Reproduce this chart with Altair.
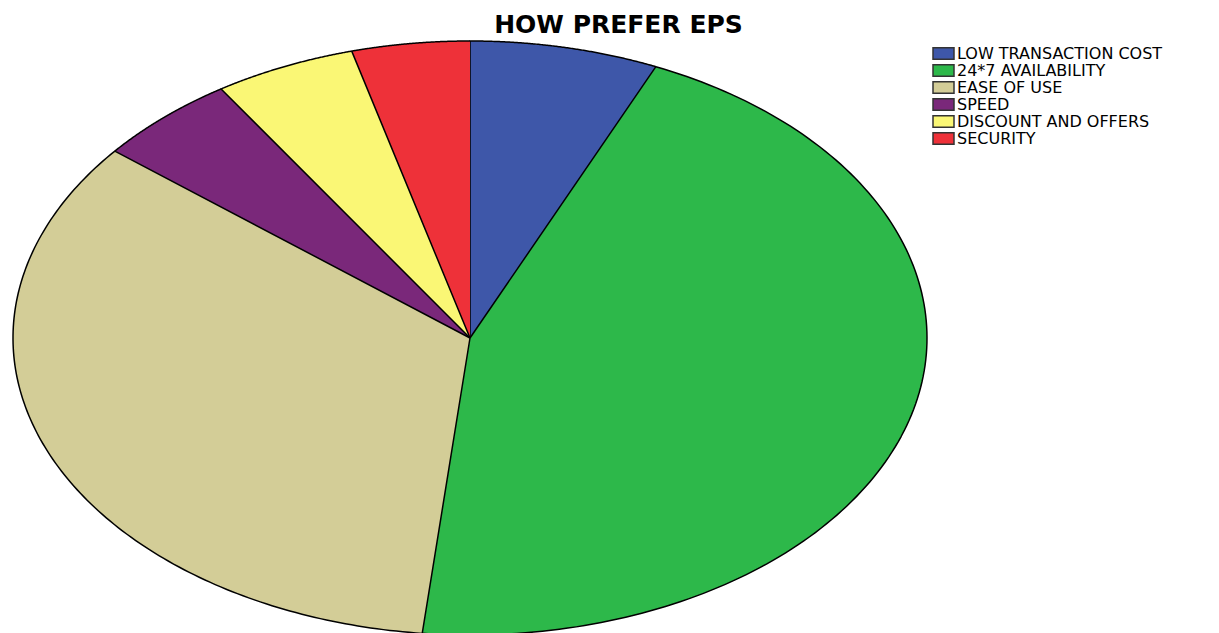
import altair as alt
import pandas as pd

# ---- data ----
categories = ["LOW TRANSACTION COST", "24*7 AVAILABILITY", "EASE OF USE",
              "SPEED", "DISCOUNT AND OFFERS", "SECURITY"]
counts = [8, 54, 41, 6, 6, 5]
colors = ["#3E57A9", "#2DB84A", "#D3CD97", "#7A287A", "#FAF775", "#EE3139"]

df = pd.DataFrame({"category": categories, "count": counts,
                   "idx": list(range(len(categories)))})

# ---- layout ----
W, H, TOP = 1219, 633, 40
VIEW_H = H - TOP
CX, CY, RX, RY = 470, 338 - TOP, 457, 297   # ellipse centre / radii in view px
N = 150                                      # arc resolution

x_dom = [-CX / RX, (W - CX) / RX]
y_dom = [-(VIEW_H - CY) / RY, CY / RY]

chart = alt.Chart(df).transform_window(
    cum="sum(count)", sort=[alt.SortField("idx")], frame=[None, 0]
).transform_joinaggregate(
    total="sum(count)"
).transform_calculate(
    a0="(datum.cum - datum.count) / datum.total * 2 * PI",
    a1="datum.cum / datum.total * 2 * PI",
    pts=f"sequence(0, {N + 2})",
).transform_flatten(
    ["pts"]
).transform_calculate(
    ang=f"datum.a0 + (datum.a1 - datum.a0) * (datum.pts - 1) / {N}",
).transform_calculate(
    u="datum.pts == 0 ? 0 : sin(datum.ang)",
    v="datum.pts == 0 ? 0 : cos(datum.ang)",
).mark_line(
    filled=True, stroke="black", strokeWidth=1.5, strokeJoin="round"
).encode(
    x=alt.X("u:Q", scale=alt.Scale(domain=x_dom, nice=False, zero=False), axis=None),
    y=alt.Y("v:Q", scale=alt.Scale(domain=y_dom, nice=False, zero=False), axis=None),
    order=alt.Order("pts:Q"),
    color=alt.Color(
        "category:N",
        scale=alt.Scale(domain=categories, range=colors),
        sort=categories,
        legend=alt.Legend(
            title=None, orient="none", legendX=935.5, legendY=5.5,
            symbolType="M-1.5,-0.82H1.5V0.82H-1.5Z", symbolSize=196,
            symbolStrokeColor="#333333", symbolStrokeWidth=1.5, symbolOpacity=1,
            labelFont="DejaVu Sans", labelFontSize=16, labelColor="black",
            labelOffset=5.5, labelLimit=400, rowPadding=-1.2, padding=0,
        ),
    ),
).properties(
    width=W, height=VIEW_H,
    padding={"left": 0, "top": TOP, "right": 0, "bottom": 0},
    autosize="none",
    title=alt.TitleParams(
        "HOW PREFER EPS", font="DejaVu Sans", fontSize=25, fontWeight="bold",
        color="black", anchor="middle", dx=9, offset=2,
    ),
    background="white",
).configure_view(stroke=None)

chart.save("out.html", embed_options={"renderer": "svg", "actions": False})
